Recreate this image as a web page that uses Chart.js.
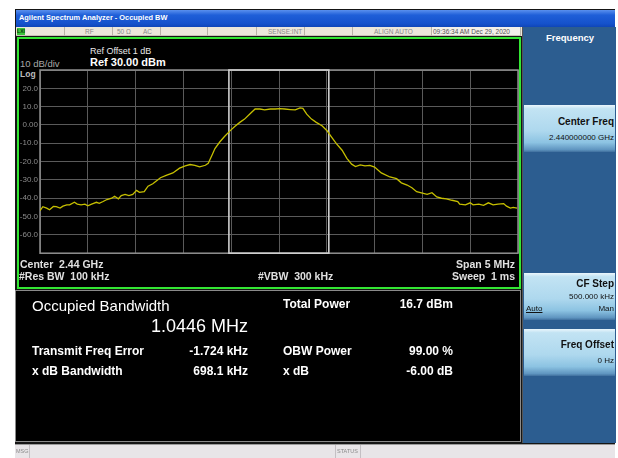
<!DOCTYPE html>
<html><head><meta charset="utf-8">
<script src="https://cdn.jsdelivr.net/npm/chart.js@4"></script>
<style>
html,body{margin:0;padding:0;background:#fff;}
body{width:618px;height:458px;position:relative;overflow:hidden;font-family:"Liberation Sans",Arial,sans-serif;}
.a{position:absolute;white-space:pre;line-height:1;}
.cell{position:absolute;top:27px;height:8px;border-right:1px solid #b9b3a6;border-bottom:1px solid #c9c3b6;}
.st{position:absolute;top:28.5px;color:#8a8a8a;font-size:6.5px;white-space:pre;line-height:1;}
.btn{position:absolute;left:524px;width:91px;background:linear-gradient(#eaf6fc 0%,#c2e3f3 8%,#aed8ee 55%,#8cc3e2 80%,#5f95c0 95%,#3f6f9e 100%);}
.bt{position:absolute;right:4px;color:#111;white-space:pre;line-height:1;}
.rl{color:#fff;font-weight:bold;font-size:12px;}
</style></head><body>
<!-- instrument screen frame -->
<div class="a" style="left:15px;top:9px;width:600px;height:449px;background:#151515;"></div>
<!-- title bar -->
<div class="a" style="left:16px;top:10px;width:599px;height:17px;background:linear-gradient(#5a90ee,#1f5fd8 30%,#1552cc 80%,#0f46b8);"></div>
<div class="a" style="left:19px;top:14px;color:#fff;font-weight:bold;font-size:7.4px;">Agilent Spectrum Analyzer - Occupied BW</div>
<!-- status row -->
<div class="a" style="left:16px;top:27px;width:506px;height:9px;background:#ece7db;"></div>
<div class="a" style="left:17px;top:28px;width:8px;height:7px;background:#3cc43c;color:#0a3a0a;font-size:5px;font-weight:bold;line-height:7px;text-align:center;">LXI</div>
<div class="cell" style="left:16px;width:48px;"></div>
<div class="cell" style="left:65px;width:47px;"></div>
<div class="cell" style="left:113px;width:47px;"></div>
<div class="cell" style="left:161px;width:46px;"></div>
<div class="cell" style="left:208px;width:48px;"></div>
<div class="cell" style="left:257px;width:47px;"></div>
<div class="cell" style="left:305px;width:47px;"></div>
<div class="cell" style="left:353px;width:78px;"></div>
<div class="cell" style="left:432px;width:88px;background:#f3f0ea;"></div>
<div class="st" style="left:85px;">RF</div>
<div class="st" style="left:117px;">50 Ω</div>
<div class="st" style="left:143px;">AC</div>
<div class="st" style="left:268px;">SENSE:INT</div>
<div class="st" style="left:374px;">ALIGN AUTO</div>
<div class="st" style="left:433px;color:#555;">09:36:34 AM Dec 29, 2020</div>
<!-- graph window -->
<div class="a" style="left:17px;top:37px;width:500px;height:248px;background:#000;border:2px solid #33e633;"></div>
<div class="a" style="left:90px;top:47px;color:#e8e8e8;font-size:9px;">Ref Offset 1 dB</div>
<div class="a" style="left:90px;top:57px;color:#fff;font-size:11px;font-weight:bold;">Ref 30.00 dBm</div>
<div class="a" style="left:20px;top:59px;color:#a8a8a8;font-size:9.5px;">10 dB/div</div>
<div class="a" style="left:20px;top:70px;color:#bdbdbd;font-size:8.5px;font-weight:bold;">Log</div>
<canvas id="c" width="502" height="198" style="position:absolute;left:18px;top:62px;"></canvas>
<div class="a" style="left:20px;top:259px;color:#e0e0e0;font-size:10.5px;font-weight:bold;">Center  2.44 GHz</div>
<div class="a" style="left:19px;top:271px;color:#e0e0e0;font-size:10.5px;font-weight:bold;">#Res BW  100 kHz</div>
<div class="a" style="left:258px;top:271px;color:#e0e0e0;font-size:10.5px;font-weight:bold;">#VBW  300 kHz</div>
<div class="a" style="right:103px;top:259px;color:#e0e0e0;font-size:10.5px;font-weight:bold;">Span 5 MHz</div>
<div class="a" style="right:103px;top:271px;color:#e0e0e0;font-size:10.5px;font-weight:bold;">Sweep  1 ms</div>
<!-- results window -->
<div class="a" style="left:15px;top:290px;width:504px;height:150px;background:#000;border:1px solid #8a8a8a;"></div>
<div class="a" style="left:32px;top:297.5px;color:#fff;font-size:15px;">Occupied Bandwidth</div>
<div class="a" style="right:370px;top:317px;color:#fff;font-size:18px;">1.0446 MHz</div>
<div class="a rl" style="left:283px;top:297.5px;">Total Power</div>
<div class="a rl" style="right:165px;top:297.5px;">16.7 dBm</div>
<div class="a rl" style="left:32px;top:344.5px;">Transmit Freq Error</div>
<div class="a rl" style="right:370px;top:344.5px;">-1.724 kHz</div>
<div class="a rl" style="left:283px;top:344.5px;">OBW Power</div>
<div class="a rl" style="right:165px;top:344.5px;">99.00 %</div>
<div class="a rl" style="left:32px;top:364.5px;">x dB Bandwidth</div>
<div class="a rl" style="right:370px;top:364.5px;">698.1 kHz</div>
<div class="a rl" style="left:283px;top:364.5px;">x dB</div>
<div class="a rl" style="right:165px;top:364.5px;">-6.00 dB</div>
<!-- right soft key panel -->
<div class="a" style="left:522px;top:27px;width:93px;height:416px;background:#2c5d90;border-left:1px solid #555;"></div>
<div class="a" style="left:546px;top:33px;color:#fff;font-weight:bold;font-size:9.5px;">Frequency</div>
<div class="btn" style="top:105px;height:47px;"></div>
<div class="bt" style="top:117px;font-weight:bold;font-size:10px;">Center Freq</div>
<div class="bt" style="top:133.5px;font-size:8px;">2.440000000 GHz</div>
<div class="btn" style="top:273px;height:47px;"></div>
<div class="bt" style="top:279px;font-weight:bold;font-size:10px;">CF Step</div>
<div class="bt" style="top:292.5px;font-size:8px;">500.000 kHz</div>
<div class="a" style="left:526px;top:305px;color:#111;font-size:8px;text-decoration:underline;">Auto</div>
<div class="bt" style="top:305px;font-size:8px;">Man</div>
<div class="btn" style="top:329px;height:47px;"></div>
<div class="bt" style="top:340px;font-weight:bold;font-size:10px;">Freq Offset</div>
<div class="bt" style="top:356.5px;font-size:8px;">0 Hz</div>
<!-- bottom status line -->
<div class="a" style="left:15px;top:444px;width:600px;height:14px;background:#e8e5e8;border-top:1px solid #9a9a9a;"></div>
<div class="a" style="left:29px;top:445px;width:1px;height:13px;background:#c4c0c4;"></div>
<div class="a" style="left:335px;top:445px;width:1px;height:13px;background:#c4c0c4;"></div>
<div class="a" style="left:360px;top:445px;width:1px;height:13px;background:#c4c0c4;"></div>
<div class="a" style="left:16px;top:448.5px;color:#8a8a8a;font-size:5.5px;">MSG</div>
<div class="a" style="left:337px;top:448.5px;color:#8a8a8a;font-size:5.5px;">STATUS</div>
<script>
// Frequency offset from center (2.44 GHz), MHz
const freqOffsetMHz = [
 -2.50,-2.47,-2.43,-2.40,-2.36,-2.33,-2.29,-2.26,-2.22,-2.19,-2.14,-2.11,-2.07,-2.03,-2.00,-1.96,-1.91,-1.88,-1.84,-1.80,
 -1.75,-1.72,-1.68,-1.65,-1.61,-1.57,-1.53,-1.49,-1.46,-1.41,-1.37,-1.32,-1.28,-1.24,-1.18,-1.11,-1.04,-0.98,-0.93,-0.88,
 -0.83,-0.77,-0.74,-0.70,-0.67,-0.62,-0.57,-0.51,-0.46,-0.41,-0.36,-0.30,-0.25,-0.20,-0.15,-0.09,-0.04,0.01,0.06,0.12,
 0.17,0.22,0.25,0.29,0.34,0.39,0.45,0.50,0.55,0.60,0.66,0.71,0.76,0.80,0.85,0.90,0.95,1.00,1.07,1.16,
 1.23,1.28,1.34,1.39,1.44,1.49,1.55,1.60,1.65,1.70,1.75,1.81,1.87,1.89,1.95,2.00,2.03,2.09,2.14,2.19,
 2.24,2.29,2.35,2.38,2.42,2.45,2.49
];
// Trace level, dBm
const levelDBm = [
 -46.8,-44.6,-45.4,-46.3,-44.5,-44.6,-45.4,-44.3,-43.6,-43.6,-42.2,-43.2,-43.6,-43.2,-44.1,-43.2,-42.2,-42.8,-41.8,-40.7,
 -40.0,-38.9,-40.3,-38.6,-37.9,-38.6,-37.9,-35.7,-36.8,-36.4,-33.4,-32.1,-30.4,-28.8,-27.5,-26.2,-23.6,-22.3,-21.6,-22.0,
 -22.9,-22.0,-20.9,-16.4,-12.9,-9.3,-6.3,-3.1,-0.7,1.4,3.2,6.3,8.7,8.7,8.2,8.7,8.7,8.9,8.7,8.4,
 8.2,9.3,9.1,5.9,3.2,1.4,-0.4,-3.0,-6.6,-10.2,-13.8,-18.2,-21.4,-22.7,-21.8,-22.3,-22.1,-23.0,-26.2,-28.4,
 -29.3,-31.6,-32.8,-34.3,-36.4,-37.1,-37.9,-37.0,-39.3,-40.0,-40.3,-41.1,-41.8,-43.2,-43.6,-42.5,-43.6,-43.2,-43.9,-42.5,
 -43.6,-43.2,-42.9,-44.3,-45.4,-45.0,-45.4
];
const yTickValues = [30,20,10,0,-10,-20,-30,-40,-50,-60,-70];
const yTickLabels = ['','20.0','10.0','0.00','-10.0','-20.0','-30.0','-40.0','-50.0','-60.0',''];
const obwEdgesMHz = [-0.524, 0.521];

const framePlugin = {
  id:'frame',
  beforeDatasetsDraw(chart){
    const {ctx, chartArea:a, scales:{x}} = chart;
    ctx.save();
    ctx.strokeStyle = '#8e8e8e'; ctx.lineWidth = 1.5;
    ctx.strokeRect(a.left, a.top, a.right - a.left, a.bottom - a.top);
    const x0 = x.getPixelForValue(obwEdgesMHz[0]), x1 = x.getPixelForValue(obwEdgesMHz[1]);
    ctx.strokeStyle = '#cfcfcf'; ctx.lineWidth = 1.6;
    ctx.strokeRect(x0, a.top, x1 - x0, a.bottom - a.top);
    ctx.restore();
  }
};

new Chart(document.getElementById('c'), {
  type:'line',
  data:{datasets:[{
    data: freqOffsetMHz.map((f,i)=>({x:f, y:levelDBm[i]})),
    borderColor:'#c6bf00', borderWidth:1.3, pointRadius:0, tension:0, fill:false
  }]},
  options:{
    responsive:false, animation:false, devicePixelRatio:1,
    layout:{padding:{top:8,right:2,bottom:3,left:0}},
    plugins:{legend:{display:false}, tooltip:{enabled:false}},
    scales:{
      x:{type:'linear', min:-2.5, max:2.5,
         ticks:{display:false, stepSize:0.5},
         grid:{color:'#5a5a5a', drawTicks:false}, border:{display:false}},
      y:{type:'linear', min:-70, max:30,
         ticks:{stepSize:10, padding:2, color:'#8c8c8c', font:{size:8, family:'Liberation Sans'},
                callback:(v)=>{const i=yTickValues.indexOf(v); return i>=0 ? yTickLabels[i] : '';}},
         grid:{color:'#5a5a5a', drawTicks:false}, border:{display:false},
         afterFit:(s)=>{s.width = 22;}}
    }
  },
  plugins:[framePlugin]
});
</script>
</body></html>
